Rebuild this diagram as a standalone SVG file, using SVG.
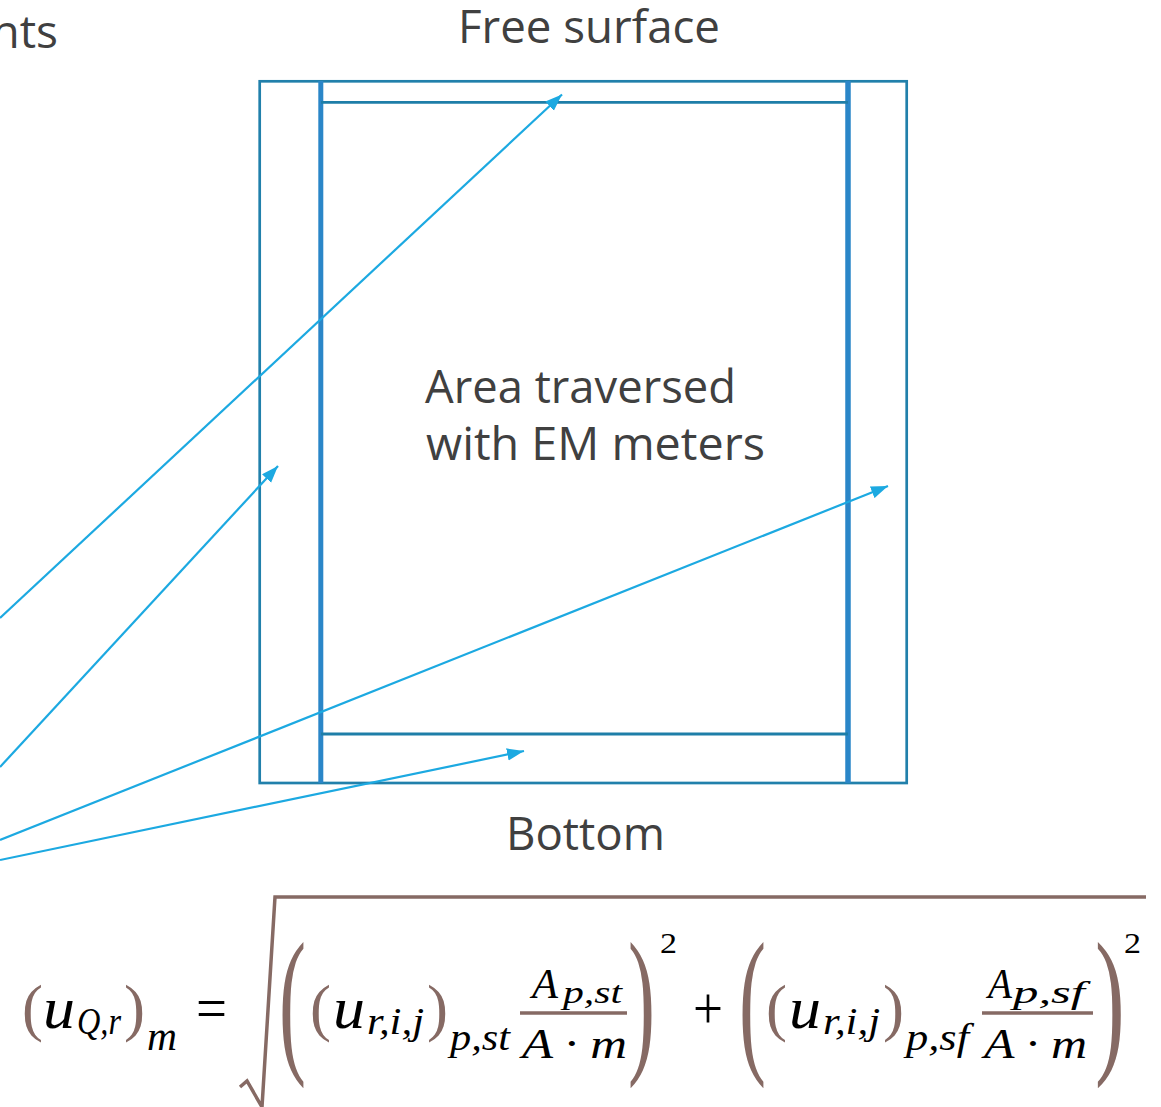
<svg xmlns="http://www.w3.org/2000/svg" width="1161" height="1107" viewBox="0 0 1161 1107">
<style>
.lbl{font-family:"Open Sans","Liberation Sans",sans-serif;font-size:46px;fill:#404040}
.mi{font-family:"Liberation Serif",serif;font-style:italic;fill:#000}
.mu{font-family:"Liberation Serif",serif;fill:#000}
.del{font-family:"Liberation Serif",serif;fill:#866A64}
.bar{stroke:#866A64;stroke-width:3.5;fill:none}
.conn{stroke:#1CA9E1;stroke-width:2.2;fill:none;marker-end:url(#ah)}
</style>
<defs>
<marker id="ah" markerUnits="userSpaceOnUse" markerWidth="18" markerHeight="13" refX="17" refY="6.25" orient="auto" viewBox="0 0 18 13">
<path d="M0,0 L17,6.25 L0,12.5 z" fill="#1CA9E1"/>
</marker>
</defs>
<rect width="1161" height="1107" fill="#fff"/>
<text class="lbl" x="58" y="48" text-anchor="end">nts</text>
<g id="section">
<rect x="259.7" y="81.3" width="647" height="701.7" fill="none" stroke="#2180AB" stroke-width="2.7"/>
<line x1="320.8" y1="81" x2="320.8" y2="783" stroke="#2A86C8" stroke-width="5"/>
<line x1="848" y1="81" x2="848" y2="783" stroke="#2A86C8" stroke-width="5.5"/>
<line x1="321" y1="102.3" x2="848" y2="102.3" stroke="#1E7EA8" stroke-width="2.8"/>
<line x1="321" y1="734" x2="848" y2="734" stroke="#1E7EA8" stroke-width="2.8"/>
</g>
<g id="labels">
<text class="lbl" x="458" y="43" textLength="262" lengthAdjust="spacingAndGlyphs">Free surface</text>
<text class="lbl" x="425" y="403" textLength="311" lengthAdjust="spacingAndGlyphs">Area traversed</text>
<text class="lbl" x="426" y="460" textLength="339" lengthAdjust="spacingAndGlyphs">with EM meters</text>
<text class="lbl" x="506" y="850" textLength="159" lengthAdjust="spacingAndGlyphs">Bottom</text>
</g>
<g id="connectors">
<line class="conn" x1="0" y1="618" x2="562" y2="94.5"/>
<line class="conn" x1="0" y1="767" x2="278" y2="466"/>
<line class="conn" x1="0" y1="840" x2="888" y2="486"/>
<line class="conn" x1="0" y1="860" x2="524" y2="751"/>
</g>
<g id="formula">
<text class="del" font-size="63" x="22" y="1029">(</text>
<text class="mi" font-size="60" x="43" y="1028" textLength="32" lengthAdjust="spacingAndGlyphs">u</text>
<text class="mi" font-size="37" x="77" y="1034" textLength="44" lengthAdjust="spacingAndGlyphs">Q,r</text>
<text class="del" font-size="63" x="124" y="1029">)</text>
<text class="mi" font-size="40" x="147" y="1050" textLength="30" lengthAdjust="spacingAndGlyphs">m</text>
<text class="mu" font-size="60" x="196" y="1028" textLength="31" lengthAdjust="spacingAndGlyphs">=</text>
<polyline class="bar" stroke-width="3" points="240,1087 247,1081 262,1107 275,897 1146,897"/>
<text class="del" font-size="162" transform="translate(279,1054) scale(0.5,1)">(</text>
<text class="del" font-size="63" x="310" y="1029">(</text>
<text class="mi" font-size="60" x="333" y="1028" textLength="32" lengthAdjust="spacingAndGlyphs">u</text>
<text class="mi" font-size="37" x="367" y="1034" textLength="57" lengthAdjust="spacingAndGlyphs">r,i,j</text>
<text class="del" font-size="63" x="427" y="1029">)</text>
<text class="mi" font-size="38" x="450" y="1050" textLength="60" lengthAdjust="spacingAndGlyphs">p,st</text>
<text class="mi" font-size="42" x="532" y="998" textLength="26" lengthAdjust="spacingAndGlyphs">A</text>
<text class="mi" font-size="31" x="563" y="1003" textLength="59" lengthAdjust="spacingAndGlyphs">p,st</text>
<line class="bar" x1="520" y1="1013" x2="627" y2="1013"/>
<text class="mi" font-size="43" x="522" y="1058" textLength="105" lengthAdjust="spacingAndGlyphs">A · m</text>
<text class="del" font-size="162" transform="translate(628,1054) scale(0.5,1)">)</text>
<text class="mu" font-size="30" x="660" y="953" textLength="17" lengthAdjust="spacingAndGlyphs">2</text>
<text class="mu" font-size="60" x="693" y="1028" textLength="30" lengthAdjust="spacingAndGlyphs">+</text>
<text class="del" font-size="162" transform="translate(739,1054) scale(0.5,1)">(</text>
<text class="del" font-size="63" x="766" y="1029">(</text>
<text class="mi" font-size="60" x="789" y="1028" textLength="32" lengthAdjust="spacingAndGlyphs">u</text>
<text class="mi" font-size="37" x="823" y="1034" textLength="57" lengthAdjust="spacingAndGlyphs">r,i,j</text>
<text class="del" font-size="63" x="883" y="1029">)</text>
<text class="mi" font-size="38" x="906" y="1050" textLength="63" lengthAdjust="spacingAndGlyphs">p,sf</text>
<text class="mi" font-size="42" x="988" y="998" textLength="24" lengthAdjust="spacingAndGlyphs">A</text>
<text class="mi" font-size="31" x="1013" y="1003" textLength="72" lengthAdjust="spacingAndGlyphs">p,sf</text>
<line class="bar" x1="982" y1="1013" x2="1093" y2="1013"/>
<text class="mi" font-size="43" x="984" y="1058" textLength="103" lengthAdjust="spacingAndGlyphs">A · m</text>
<text class="del" font-size="162" transform="translate(1095,1054) scale(0.55,1)">)</text>
<text class="mu" font-size="30" x="1124" y="953" textLength="17" lengthAdjust="spacingAndGlyphs">2</text>
</g>
</svg>
